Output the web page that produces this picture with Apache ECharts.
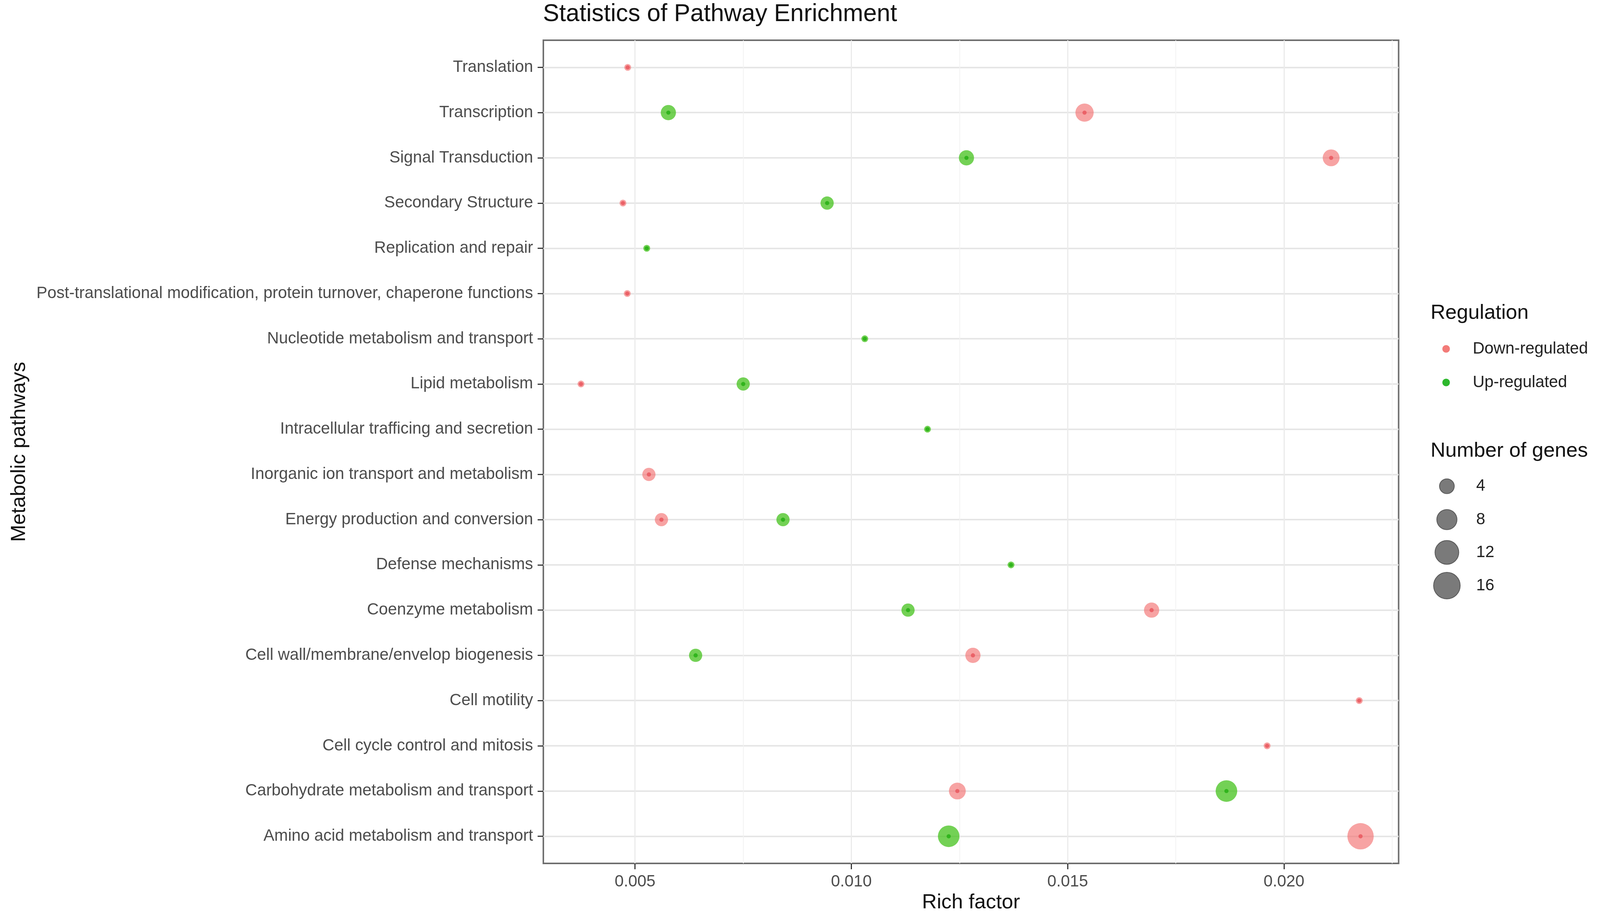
<!DOCTYPE html>
<html>
<head>
<meta charset="utf-8">
<title>Statistics of Pathway Enrichment</title>
<script src="https://cdn.jsdelivr.net/npm/echarts@6/dist/echarts.min.js"></script>
<style>
    html, body { margin: 0; padding: 0; background: #fff; overflow: hidden; }
    #chart { width: 100vw; height: 100vh; }
</style>
</head>
<body>
<div id="chart"></div>
<script type="text/javascript">
    // pathways, top to bottom
    var pathways = [
        'Translation',
        'Transcription',
        'Signal Transduction',
        'Secondary Structure',
        'Replication and repair',
        'Post-translational modification, protein turnover, chaperone functions',
        'Nucleotide metabolism and transport',
        'Lipid metabolism',
        'Intracellular trafficing and secretion',
        'Inorganic ion transport and metabolism',
        'Energy production and conversion',
        'Defense mechanisms',
        'Coenzyme metabolism',
        'Cell wall/membrane/envelop biogenesis',
        'Cell motility',
        'Cell cycle control and mitosis',
        'Carbohydrate metabolism and transport',
        'Amino acid metabolism and transport'
    ];

    // rich factor / number of genes per pathway (null = no point)
    var downRich  = [0.00483, 0.01539, 0.02109, 0.00472, null, 0.00482, null, 0.00375, null, 0.00532, 0.00561, null, 0.01694, 0.01281, 0.02174, 0.01961, 0.01245, 0.02177];
    var downGenes = [1, 6, 5, 1, null, 1, null, 1, null, 3, 3, null, 4, 4, 1, 1, 5, 15];
    var upRich    = [null, 0.00577, 0.01266, 0.00944, 0.00527, null, 0.01031, 0.00750, 0.01176, null, 0.00842, 0.01369, 0.01131, 0.00640, null, null, 0.01867, 0.01225];
    var upGenes   = [null, 4, 4, 3, 1, null, 1, 3, 1, null, 3, 1, 3, 3, null, null, 9, 9];

    var xTicks = [0.005, 0.010, 0.015, 0.020];
    var xMinor = [0.0075, 0.0125, 0.0175, 0.0225];
    var sizeBreaks = [4, 8, 12, 16];

    var FONT = '"Liberation Sans", Arial, Helvetica, sans-serif';

    var dom = document.getElementById('chart');
    var W = dom.clientWidth, H = dom.clientHeight;
    // layout was measured on a 4211 x 2360 canvas
    var sx = W / 4211, sy = H / 2360;
    function px(v) { return v * sx; }
    function py(v) { return v * sy; }
    function fs(v) { return v * Math.min(sx, sy); }

    // gene count -> diameter
    function sizeOf(n) {
        return fs(53 * Math.pow(n, 0.25) - 35);
    }

    function points(rich, genes) {
        var out = [];
        for (var i = 0; i < rich.length; i++) {
            if (rich[i] != null) out.push([rich[i], i, genes[i]]);
        }
        return out;
    }
    var downData = points(downRich, downGenes);
    var upData = points(upRich, upGenes);

    var rowIdx = pathways.map(function (p, i) { return i; });

    var myChart = echarts.init(dom);

    var series = [{
        name: 'Down-regulated',
        type: 'scatter',
        data: downData,
        symbol: 'circle',
        symbolSize: function (d) { return sizeOf(d[2]); },
        itemStyle: { color: '#F26A6A', opacity: 0.62 },
        z: 3
    }, {
        name: 'Down-regulated',
        type: 'scatter',
        data: downData,
        symbol: 'circle',
        symbolSize: fs(11),
        itemStyle: { color: '#E8525A' },
        z: 4
    }, {
        name: 'Up-regulated',
        type: 'scatter',
        data: upData,
        symbol: 'circle',
        symbolSize: function (d) { return sizeOf(d[2]); },
        itemStyle: { color: '#44C21C', opacity: 0.75 },
        z: 3
    }, {
        name: 'Up-regulated',
        type: 'scatter',
        data: upData,
        symbol: 'circle',
        symbolSize: fs(11),
        itemStyle: { color: '#22AE10' },
        z: 4
    }];

    // size key series (legend only)
    sizeBreaks.forEach(function (b) {
        series.push({
            name: String(b),
            type: 'scatter',
            data: [],
            itemStyle: { color: '#595959', borderColor: '#454545', borderWidth: 1.5 }
        });
    });

    var dotKey = fs(20);
    var legends = [{
        orient: 'vertical',
        left: px(3806) - dotKey / 2,
        top: py(872),
        padding: 0,
        itemWidth: dotKey,
        itemHeight: dotKey,
        itemGap: py(44),
        icon: 'circle',
        selectedMode: false,
        textStyle: {
            fontFamily: FONT, fontSize: fs(43), color: '#222',
            padding: [0, 0, 0, px(3876 - 3806) - dotKey / 2 - 5]
        },
        data: [
            { name: 'Down-regulated', itemStyle: { color: '#F37B78', opacity: 1 } },
            { name: 'Up-regulated', itemStyle: { color: '#2DB82D', opacity: 1 } }
        ]
    }];
    var keyCenters = [1245, 1329, 1413, 1498];
    sizeBreaks.forEach(function (b, i) {
        var d = fs(53 * Math.pow(b, 0.25) - 36);
        legends.push({
            orient: 'vertical',
            left: px(3807) - d / 2,
            top: py(keyCenters[i]) - Math.max(d, fs(44)) / 2,
            padding: 0,
            itemWidth: d,
            itemHeight: d,
            icon: 'circle',
            selectedMode: false,
            textStyle: {
                fontFamily: FONT, fontSize: fs(43), color: '#222',
                padding: [0, 0, 0, px(3884 - 3807) - d / 2 - 5]
            },
            data: [String(b)]
        });
    });

    var option = {
        backgroundColor: '#fff',
        animation: false,
        title: [{
            text: 'Statistics of Pathway Enrichment',
            left: px(1429),
            top: py(6),
            padding: 0,
            textStyle: { fontFamily: FONT, fontSize: fs(64), fontWeight: 'normal', color: '#111' }
        }, {
            text: 'Regulation',
            left: px(3765),
            top: py(775),
            padding: 0,
            textStyle: { fontFamily: FONT, fontSize: fs(54), fontWeight: 'normal', color: '#111' }
        }, {
            text: 'Number of genes',
            left: px(3765),
            top: py(1128),
            padding: 0,
            textStyle: { fontFamily: FONT, fontSize: fs(54), fontWeight: 'normal', color: '#111' }
        }],
        legend: legends,
        grid: {
            left: px(1430),
            right: px(530),
            top: py(103),
            bottom: py(150),
            show: true,
            backgroundColor: '#fff',
            borderColor: '#6E6E6E',
            borderWidth: fs(4),
            containLabel: false,
            outerBoundsMode: 'none'
        },
        xAxis: [{
            type: 'value',
            min: 0.00288,
            max: 0.02265,
            position: 'bottom',
            name: 'Rich factor',
            nameLocation: 'middle',
            nameGap: py(74),
            nameTextStyle: { fontFamily: FONT, fontSize: fs(54), color: '#111' },
            axisLine: { show: false, onZero: false },
            axisTick: {
                show: true,
                length: py(15),
                customValues: xTicks,
                lineStyle: { color: '#333', width: fs(3) }
            },
            axisLabel: {
                show: true,
                margin: py(26),
                customValues: xTicks,
                fontFamily: FONT,
                fontSize: fs(43),
                color: '#4D4D4D',
                formatter: function (v) { return v.toFixed(3); }
            },
            splitLine: { show: true, lineStyle: { color: '#EBEBEB', width: fs(3) } }
        }, {
            // minor vertical grid lines
            type: 'value',
            min: 0.00288,
            max: 0.02265,
            position: 'bottom',
            axisLine: { show: false, onZero: false },
            axisTick: { show: false, customValues: xMinor },
            axisLabel: { show: false },
            splitLine: { show: true, lineStyle: { color: '#F2F2F2', width: fs(2) } }
        }],
        yAxis: {
            type: 'value',
            min: -0.6,
            max: 17.6,
            inverse: true,
            position: 'left',
            name: 'Metabolic pathways',
            nameLocation: 'middle',
            nameGap: px(1352),
            nameTextStyle: { fontFamily: FONT, fontSize: fs(54), color: '#111' },
            axisLine: { show: false, onZero: false },
            axisTick: {
                show: true,
                length: px(15),
                customValues: rowIdx,
                lineStyle: { color: '#333', width: fs(3) }
            },
            axisLabel: {
                show: true,
                margin: px(27),
                customValues: rowIdx,
                fontFamily: FONT,
                fontSize: fs(43),
                color: '#4D4D4D',
                formatter: function (v) { return pathways[Math.round(v)]; }
            },
            splitLine: { show: true, lineStyle: { color: '#E6E6E6', width: fs(4) } }
        },
        series: series
    };

    myChart.setOption(option);
</script>
</body>
</html>
